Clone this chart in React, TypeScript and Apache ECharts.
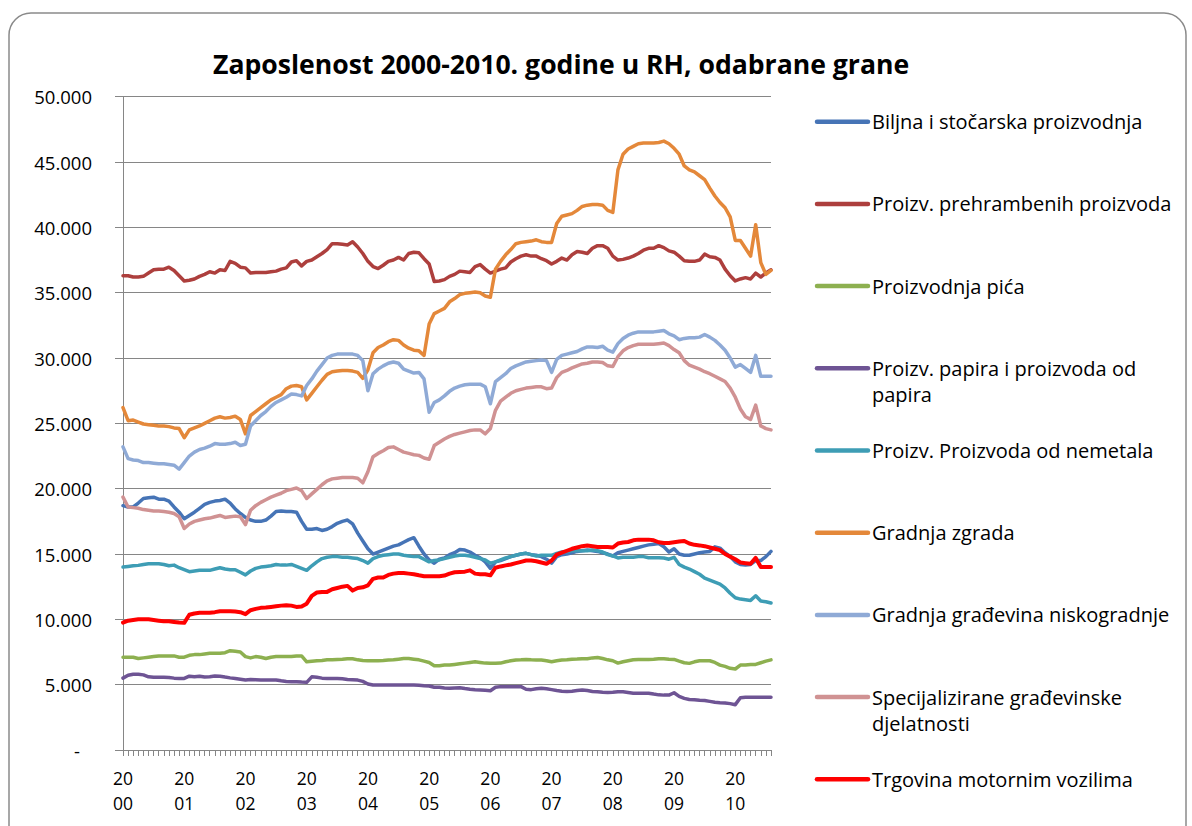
import { useEffect, useRef } from 'react';
import * as echarts from 'echarts';

// ---------- categories ----------
const YEARS = [2000, 2001, 2002, 2003, 2004, 2005, 2006, 2007, 2008, 2009, 2010];
const MONTHS = ['01', '02', '03', '04', '05', '06', '07', '08', '09', '10', '11', '12'];
const MONTHS_IN_LAST_YEAR = 8;
const CATEGORIES: string[] = [];
YEARS.forEach((y, yi) => {
  const n = yi === YEARS.length - 1 ? MONTHS_IN_LAST_YEAR : 12;
  for (let i = 0; i < n; i++) CATEGORIES.push(`${y}-${MONTHS[i]}`);
});

// ---------- series values (one row per year) ----------
const BILJNA = [
  18700, 18600, 18600, 18900, 19250, 19300, 19350, 19200, 19200, 19050, 18600, 18200,
  17700, 17950, 18200, 18500, 18800, 18950, 19050, 19100, 19200, 18900, 18450, 18100,
  17800, 17600, 17500, 17500, 17600, 17900, 18250, 18300, 18250, 18250, 18200, 17500,
  16900, 16900, 16950, 16800, 16900, 17100, 17350, 17500, 17600, 17300, 16600, 16000,
  15400, 15000, 15150, 15300, 15450, 15600, 15700, 15900, 16100, 16250, 15600, 15000,
  14550, 14300, 14600, 14700, 14950, 15100, 15350, 15300, 15150, 14900, 14700, 14400,
  13900, 14400, 14500, 14650, 14800, 14900, 15000, 15050, 14950, 14900, 14800, 14600,
  14300, 14800, 14950, 15000, 15100, 15200, 15250, 15300, 15250, 15200, 15100, 15000,
  14850, 15100, 15200, 15300, 15400, 15500, 15600, 15700, 15750, 15800, 15550, 15150,
  15400, 15000, 14900, 14900, 15000, 15100, 15150, 15200, 15550, 15450, 15100, 14800,
  14400, 14200, 14150, 14200, 14500, 14500, 14800, 15200,
];
const PREHRAMBENI = [
  36300, 36300, 36200, 36200, 36250, 36500, 36750, 36800, 36800, 36950, 36700, 36300,
  35900, 35950, 36050, 36250, 36400, 36600, 36500, 36750, 36700, 37400, 37250, 36950,
  36900, 36500, 36550, 36550, 36550, 36600, 36650, 36800, 36900, 37350, 37450, 37050,
  37400, 37500, 37750, 38000, 38300, 38750, 38750, 38700, 38650, 38900, 38500, 38000,
  37400, 37000, 36850, 37100, 37400, 37500, 37700, 37500, 38000, 38100, 38050, 37600,
  37200, 35850, 35900, 36000, 36250, 36400, 36650, 36600, 36550, 37000, 37150, 36800,
  36500, 36650, 36800, 36900, 37350, 37600, 37800, 37900, 37800, 37800, 37600, 37450,
  37200, 37400, 37650, 37500, 37900, 38150, 38100, 38000, 38400, 38600, 38600, 38400,
  37800, 37500, 37550, 37650, 37800, 38000, 38250, 38400, 38400, 38600, 38450, 38200,
  38100, 37800, 37450, 37400, 37400, 37500, 37950, 37750, 37700, 37500, 36800, 36300,
  35900, 36050, 36150, 36050, 36500, 36200, 36500, 36750,
];
const PICA = [
  7100, 7100, 7100, 7000, 7050, 7100, 7150, 7200, 7200, 7200, 7200, 7100,
  7100, 7250, 7300, 7300, 7350, 7400, 7400, 7400, 7450, 7600, 7550, 7500,
  7150, 7050, 7150, 7100, 7000, 7100, 7150, 7150, 7150, 7150, 7200, 7200,
  6750, 6800, 6830, 6850, 6900, 6900, 6930, 6950, 6980, 6980, 6900, 6850,
  6830, 6830, 6830, 6850, 6880, 6900, 6950, 7000, 7000, 6950, 6900, 6800,
  6700, 6450, 6450, 6500, 6500, 6550, 6600, 6650, 6700, 6750, 6700, 6650,
  6630, 6630, 6650, 6750, 6830, 6880, 6900, 6930, 6900, 6880, 6880, 6830,
  6760, 6830, 6880, 6900, 6950, 6960, 6980, 6980, 7050, 7080, 7000, 6900,
  6830, 6650, 6750, 6830, 6900, 6930, 6930, 6930, 6950, 6980, 6980, 6950,
  6930, 6800, 6680, 6630, 6750, 6830, 6830, 6830, 6700, 6500, 6400, 6250,
  6200, 6500, 6500, 6550, 6550, 6680, 6800, 6900,
];
const PAPIR = [
  5500, 5720, 5800, 5800, 5750, 5600, 5560, 5560, 5560, 5550, 5500, 5480,
  5480, 5650, 5600, 5650, 5580, 5600, 5660, 5650, 5580, 5520, 5480, 5420,
  5360, 5400, 5380, 5360, 5360, 5360, 5360, 5300, 5250, 5230, 5230, 5200,
  5180, 5600, 5560, 5500, 5480, 5480, 5480, 5450, 5400, 5380, 5350, 5250,
  5050, 4970, 4970, 4970, 4970, 4970, 4970, 4970, 4970, 4970, 4950, 4920,
  4900, 4800, 4800, 4750, 4720, 4750, 4770, 4700, 4650, 4620, 4600, 4580,
  4540, 4800, 4850, 4850, 4850, 4850, 4850, 4650, 4620, 4680, 4720, 4680,
  4620, 4550, 4500, 4470, 4500, 4550, 4600, 4550, 4480, 4450, 4420, 4400,
  4420, 4450, 4450, 4400, 4350, 4350, 4350, 4350, 4280, 4220, 4200, 4200,
  4380, 4100, 3950, 3870, 3840, 3800, 3790, 3720, 3650, 3620, 3600, 3550,
  3470, 4000, 4040, 4040, 4040, 4040, 4040, 4040,
];
const NEMETALI = [
  14000, 14050, 14100, 14130, 14200, 14250, 14260, 14260, 14200, 14100, 14150, 13950,
  13800, 13650, 13700, 13750, 13750, 13750, 13850, 13950, 13850, 13800, 13800, 13600,
  13400, 13700, 13900, 14000, 14050, 14100, 14200, 14150, 14150, 14200, 14050, 13900,
  13750, 14100, 14400, 14650, 14750, 14800, 14800, 14750, 14750, 14700, 14650, 14500,
  14300, 14650, 14800, 14900, 14950, 15000, 15000, 14900, 14850, 14800, 14800, 14600,
  14400, 14500, 14550, 14650, 14750, 14850, 14900, 14900, 14850, 14750, 14650, 14550,
  14300, 14400, 14550, 14700, 14800, 14900, 15000, 15050, 14950, 14850, 14900, 14900,
  14900, 15050, 15150, 15200, 15250, 15250, 15250, 15250, 15300, 15250, 15150, 14950,
  14850, 14700, 14750, 14750, 14750, 14800, 14800, 14720, 14720, 14720, 14700, 14600,
  14750, 14200, 14000, 13850, 13650, 13450, 13150, 13000, 12850, 12700, 12400, 12000,
  11650, 11550, 11500, 11450, 11800, 11400, 11350, 11250,
];
const ZGRADE = [
  26200, 25200, 25250, 25100, 24950, 24900, 24850, 24800, 24800, 24750, 24650, 24600,
  23900, 24500, 24650, 24800, 25000, 25200, 25400, 25500, 25400, 25450, 25550, 25300,
  24200, 25600, 25900, 26200, 26500, 26800, 27000, 27200, 27650, 27850, 27900, 27800,
  26800, 27300, 27800, 28300, 28750, 28950, 29000, 29050, 29050, 29000, 28900, 28450,
  29100, 30400, 30800, 31000, 31250, 31400, 31350, 31000, 30750, 30600, 30550, 30200,
  32600, 33400, 33600, 33800, 34300, 34550, 34850, 34950, 35000, 35050, 35000, 34750,
  34650, 36800, 37400, 37900, 38300, 38750, 38850, 38900, 38950, 39050, 38900, 38850,
  38850, 40300, 40850, 40950, 41050, 41300, 41600, 41700, 41750, 41750, 41700, 41300,
  41150, 44400, 45600, 46000, 46200, 46400, 46450, 46450, 46450, 46500, 46600, 46400,
  46050, 45600, 44700, 44400, 44250, 43950, 43650, 43000, 42400, 41900, 41500, 40800,
  39000, 39000, 38400, 37800, 40200, 37300, 36400, 36700,
];
const NISKOGRADNJA = [
  23200, 22300, 22200, 22150, 22000, 22000, 21950, 21900, 21900, 21850, 21800, 21500,
  22000, 22500, 22800, 23000, 23100, 23250, 23450, 23400, 23400, 23450, 23550, 23300,
  23400, 24800, 25200, 25600, 25900, 26300, 26600, 26800, 27000, 27250, 27200, 27100,
  27900, 28400, 29000, 29500, 30000, 30200, 30300, 30300, 30300, 30300, 30200, 29800,
  27500, 28800, 29150, 29400, 29600, 29700, 29600, 29150, 29000, 28850, 28900, 28400,
  25850, 26600, 26800, 27100, 27450, 27700, 27850, 27950, 28000, 28000, 28000, 27800,
  26500, 28200, 28500, 28800, 29200, 29400, 29550, 29700, 29750, 29800, 29850, 29800,
  28900, 29900, 30200, 30300, 30400, 30500, 30700, 30850, 30850, 30800, 30900, 30600,
  30450, 31100, 31500, 31750, 31900, 32000, 32000, 32000, 32000, 32050, 32100, 31850,
  31700, 31400, 31500, 31550, 31550, 31600, 31800, 31600, 31350, 31000, 30600, 30000,
  29300, 29500, 29200, 28900, 30200, 28600, 28600, 28600,
];
const SPECIJALIZIRANE = [
  19350, 18600, 18550, 18500, 18400, 18350, 18300, 18300, 18250, 18200, 18100, 17850,
  16950, 17300, 17500, 17600, 17700, 17750, 17850, 17950, 17800, 17850, 17900, 17850,
  17250, 18350, 18700, 18950, 19150, 19350, 19500, 19650, 19850, 19950, 20050, 19850,
  19250, 19600, 19950, 20300, 20600, 20750, 20800, 20850, 20850, 20850, 20800, 20450,
  21300, 22450, 22700, 22900, 23150, 23200, 23000, 22800, 22700, 22600, 22550, 22350,
  22250, 23300, 23550, 23800, 24000, 24150, 24250, 24350, 24450, 24500, 24500, 24200,
  24600, 26000, 26700, 27000, 27300, 27500, 27600, 27700, 27750, 27800, 27800, 27650,
  27700, 28500, 28900, 29050, 29250, 29400, 29550, 29600, 29700, 29700, 29650, 29400,
  29350, 30100, 30550, 30800, 30950, 31050, 31050, 31050, 31050, 31100, 31150, 30950,
  30650, 30400, 29800, 29450, 29300, 29150, 28950, 28800, 28600, 28400, 28200, 27700,
  27000, 26100, 25500, 25300, 26400, 24800, 24600, 24500,
];
const MOTORNA_VOZILA = [
  9750, 9900, 9950, 10000, 10000, 10000, 9950, 9900, 9850, 9850, 9800, 9750,
  9730, 10350, 10450, 10500, 10500, 10500, 10550, 10620, 10620, 10620, 10600, 10550,
  10400, 10700, 10800, 10880, 10900, 10950, 11000, 11050, 11080, 11050, 10950, 10980,
  11200, 11800, 12050, 12100, 12100, 12300, 12400, 12500, 12560, 12200, 12400, 12450,
  12600, 13100, 13200, 13200, 13400, 13500, 13550, 13550, 13500, 13450, 13370, 13300,
  13300, 13300, 13300, 13350, 13500, 13600, 13630, 13650, 13750, 13500, 13450, 13450,
  13370, 13950, 14050, 14130, 14200, 14300, 14400, 14500, 14500, 14450, 14350, 14250,
  14500, 14950, 15100, 15250, 15400, 15500, 15600, 15650, 15600, 15530, 15530, 15530,
  15500, 15800, 15880, 15920, 16050, 16100, 16100, 16100, 16050, 15900, 15840, 15840,
  15900, 15950, 16000, 15800, 15700, 15660, 15600, 15500, 15400, 15300, 15000, 14800,
  14600, 14350, 14300, 14250, 14700, 14000, 14000, 14000,
];

const SERIES_NAMES = [
  'Biljna i stočarska proizvodnja',
  'Proizv. prehrambenih proizvoda',
  'Proizvodnja pića',
  'Proizv. papira i proizvoda od papira',
  'Proizv. Proizvoda od nemetala',
  'Gradnja zgrada',
  'Gradnja građevina niskogradnje',
  'Specijalizirane građevinske djelatnosti',
  'Trgovina motornim vozilima',
];
const LEGEND_LABELS = [
  'Biljna i stočarska proizvodnja',
  'Proizv. prehrambenih proizvoda',
  'Proizvodnja pića',
  'Proizv. papira i proizvoda od\npapira',
  'Proizv. Proizvoda od nemetala',
  'Gradnja zgrada',
  'Gradnja građevina niskogradnje',
  'Specijalizirane građevinske\ndjelatnosti',
  'Trgovina motornim vozilima',
];
const SERIES_VALUES = [
  BILJNA, PREHRAMBENI, PICA, PAPIR, NEMETALI, ZGRADE, NISKOGRADNJA, SPECIJALIZIRANE, MOTORNA_VOZILA,
];
const COLORS = [
  '#4674B6', '#AD3F3D', '#8DB050', '#6E5494', '#3E9DB5', '#E4883A', '#8FAAD6', '#D09293', '#FF0000',
];
const LINE_WIDTHS = [3.5, 3.5, 3.5, 3.5, 3.5, 3.5, 3.5, 3.5, 4];

const TITLE = 'Zaposlenost 2000-2010. godine u RH, odabrane grane';
const Y_MIN = 0;
const Y_MAX = 50000;
const Y_STEP = 5000;

const FONT = "'Open Sans', 'Noto Sans', sans-serif";
const GRID_COLOR = '#868686';

function formatThousands(v: number): string {
  if (v === 0) return '{d|-}';
  return String(v).replace(/\B(?=(\d{3})+(?!\d))/g, '.');
}

export default function App() {
  const ref = useRef<HTMLDivElement>(null);

  useEffect(() => {
    document.body.style.margin = '0';
    if (!ref.current) return;
    const chart = echarts.init(ref.current, undefined, { renderer: 'svg' });

    const legendTop = 121.7;
    const legendStep = 82.2;
    const legendLineH = 26.5;
    const legendGraphics: any[] = [];
    LEGEND_LABELS.forEach((label, i) => {
      const cy = legendTop + legendStep * i;
      legendGraphics.push({
        type: 'line',
        silent: true,
        shape: { x1: 817, y1: cy, x2: 868, y2: cy },
        style: { stroke: COLORS[i], lineWidth: 4.5, lineCap: 'round' },
      });
      legendGraphics.push({
        type: 'text',
        silent: true,
        x: 872,
        y: cy - legendLineH / 2,
        style: {
          text: label,
          fontFamily: FONT,
          fontSize: 20,
          lineHeight: legendLineH,
          fill: '#000',
          align: 'left',
          verticalAlign: 'top',
        },
      });
    });

    chart.setOption({
      animation: false,
      backgroundColor: '#ffffff',
      title: {
        text: TITLE,
        left: 208,
        top: 45,
        textStyle: { fontFamily: FONT, fontSize: 26.6, fontWeight: 'bold', color: '#000' },
      },
      grid: { left: 123, top: 96.7, width: 648, height: 653.3, containLabel: false },
      xAxis: {
        type: 'category',
        data: CATEGORIES,
        boundaryGap: false,
        axisLine: { show: true, lineStyle: { color: GRID_COLOR, width: 1 } },
        axisTick: { show: true, interval: 0, length: 6, lineStyle: { color: GRID_COLOR, width: 1 } },
        axisLabel: {
          interval: (_idx: number, value: string) => value.endsWith('-01'),
          formatter: (value: string) => `${value.slice(0, 2)}\n${value.slice(2, 4)}`,
          fontFamily: FONT,
          fontSize: 17.5,
          lineHeight: 25,
          color: '#000',
          margin: 15,
        },
        splitLine: { show: false },
      },
      yAxis: {
        type: 'value',
        min: Y_MIN,
        max: Y_MAX,
        interval: Y_STEP,
        axisLine: { show: true, lineStyle: { color: GRID_COLOR, width: 1 } },
        axisTick: { show: true, length: 8, lineStyle: { color: GRID_COLOR, width: 1 } },
        axisLabel: {
          formatter: formatThousands,
          fontFamily: FONT,
          fontSize: 18.5,
          color: '#000',
          margin: 31,
          rich: { d: { fontFamily: FONT, fontSize: 18.5, color: '#000', padding: [0, 12, 0, 0] } },
        },
        splitLine: { show: true, lineStyle: { color: GRID_COLOR, width: 1 } },
      },
      series: SERIES_NAMES.map((name, i) => ({
        name,
        type: 'line',
        data: SERIES_VALUES[i],
        showSymbol: false,
        symbol: 'none',
        color: COLORS[i],
        lineStyle: { color: COLORS[i], width: LINE_WIDTHS[i], cap: 'round', join: 'round' },
        emphasis: { disabled: true },
        z: 2 + i,
      })),
      graphic: [
        {
          type: 'rect',
          silent: true,
          z: -10,
          shape: { x: 9, y: 13, width: 1177, height: 900, r: 22 },
          style: { fill: 'none', stroke: '#8a8a8a', lineWidth: 1.5 },
        },
        ...legendGraphics,
      ],
    });

    return () => chart.dispose();
  }, []);

  return <div ref={ref} style={{ width: 1192, height: 826 }} />;
}
